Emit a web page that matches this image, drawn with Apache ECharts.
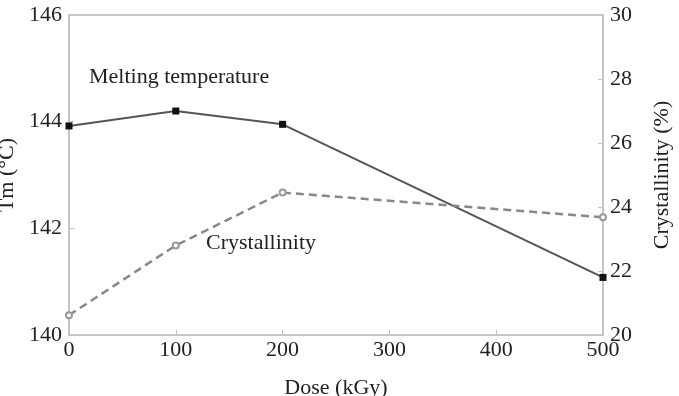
<!DOCTYPE html>
<html><head><meta charset="utf-8">
<script src="https://cdn.jsdelivr.net/npm/echarts@6/dist/echarts.min.js"></script>
<style>html,body{margin:0;padding:0;background:#fff}#c{width:679px;height:396px}</style>
</head><body><div id="c"></div>
<script>
var doses = [0, 100, 200, 500];
var meltingTemp = [143.92, 144.2, 143.95, 141.08];
var crystallinity = [20.62, 22.8, 24.45, 23.68];

var font = 'Liberation Serif';
var fs = 22;
var chart = echarts.init(document.getElementById('c'));
function pairs(xs, ys){ return xs.map(function(x,i){ return [x, ys[i]]; }); }
var axisLineStyle = {color:'#c4c4c4', width:2};
var labelStyle = {fontFamily:font, fontSize:fs, color:'#222'};
chart.setOption({
  animation:false,
  backgroundColor:'#fff',
  grid:{left:69, right:76, top:15, bottom:61, containLabel:false, outerBoundsMode:'none',
        show:true, borderColor:'#c8c8c8', borderWidth:2},
  xAxis:{type:'value', min:0, max:500, interval:100,
    name:'Dose (kGy)', nameLocation:'middle', nameGap:42,
    nameTextStyle:labelStyle,
    axisLine:{lineStyle:axisLineStyle}, axisTick:{inside:true, length:5, lineStyle:{color:'#c4c4c4'}},
    axisLabel:Object.assign({margin:4}, labelStyle),
    splitLine:{show:false}},
  yAxis:[
    {type:'value', min:140, max:146, interval:2, position:'left',
     name:'Tm (°C)', nameLocation:'middle', nameGap:50,
     nameTextStyle:labelStyle,
     axisLine:{show:true, lineStyle:axisLineStyle}, axisTick:{show:true, inside:true, length:5, lineStyle:{color:'#c4c4c4'}},
     axisLabel:Object.assign({margin:7, padding:[8,0,0,0]}, labelStyle),
     splitLine:{show:false}},
    {type:'value', min:20, max:30, interval:2, position:'right',
     name:'Crystallinity (%)', nameLocation:'middle', nameGap:48,
     nameTextStyle:labelStyle,
     axisLine:{show:true, lineStyle:axisLineStyle}, axisTick:{show:true, inside:true, length:5, lineStyle:{color:'#c4c4c4'}},
     axisLabel:Object.assign({margin:7}, labelStyle),
     splitLine:{show:false}}
  ],
  series:[
    {type:'line', yAxisIndex:0, data:pairs(doses, meltingTemp),
     symbol:'rect', symbolSize:7, itemStyle:{color:'#111'},
     lineStyle:{color:'#555', width:2}},
    {type:'line', yAxisIndex:1, data:pairs(doses, crystallinity),
     symbol:'emptyCircle', symbolSize:6, itemStyle:{color:'#999', borderColor:'#999'},
     lineStyle:{color:'#888', width:2.5, type:[8,5]}}
  ],
  graphic:[
    {type:'text', left:89, top:66, style:{text:'Melting temperature', font:'22px "Liberation Serif"', fill:'#222'}},
    {type:'text', left:206, top:232, style:{text:'Crystallinity', font:'22px "Liberation Serif"', fill:'#222'}}
  ]
});
</script></body></html>
